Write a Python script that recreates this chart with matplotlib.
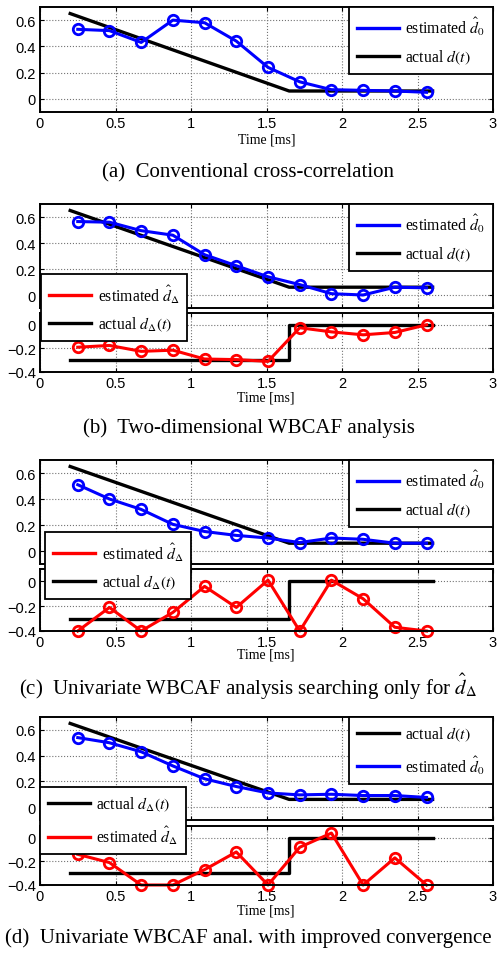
import matplotlib.pyplot as plt
from matplotlib.lines import Line2D

plt.rcParams['font.family'] = 'Liberation Sans'
plt.rcParams['mathtext.fontset'] = 'stix'

# common time axis (ms)
t_est = [0.25, 0.46, 0.67, 0.88, 1.09, 1.30, 1.51, 1.72, 1.93, 2.14, 2.35, 2.56]
t_act = [0.20, 1.65, 2.60]
d_act = [0.65, 0.06, 0.06]
t_step = [0.20, 1.65, 1.65, 2.60]
dd_act = [-0.30, -0.30, 0.00, 0.00]

# (a) conventional cross-correlation
a_d0 = [0.53, 0.52, 0.43, 0.60, 0.58, 0.44, 0.24, 0.13, 0.07, 0.065, 0.06, 0.05]
# (b) two-dimensional WBCAF
b_d0 = [0.565, 0.56, 0.495, 0.46, 0.31, 0.225, 0.14, 0.08, 0.01, 0.0, 0.06, 0.055]
b_dd = [-0.19, -0.175, -0.225, -0.215, -0.29, -0.295, -0.31, -0.025, -0.06, -0.085, -0.065, 0.0]
# (c) univariate, searching only for d_delta
c_d0 = [0.51, 0.40, 0.32, 0.205, 0.15, 0.12, 0.10, 0.065, 0.10, 0.09, 0.06, 0.06]
c_dd = [-0.40, -0.21, -0.40, -0.25, -0.04, -0.21, 0.01, -0.40, 0.01, -0.14, -0.37, -0.40]
# (d) univariate, improved convergence
d_d0 = [0.54, 0.50, 0.43, 0.32, 0.22, 0.16, 0.11, 0.095, 0.10, 0.09, 0.09, 0.075]
d_dd = [-0.14, -0.21, -0.40, -0.40, -0.27, -0.12, -0.40, -0.08, 0.04, -0.40, -0.17, -0.40]

captions = ['(a)  Conventional cross-correlation',
            '(b)  Two-dimensional WBCAF analysis',
            r'(c)  Univariate WBCAF analysis searching only for $\hat{d}_\Delta$',
            '(d)  Univariate WBCAF anal. with improved convergence']

W, H = 497, 954
fig = plt.figure(figsize=(W / 100, H / 100), dpi=100)
serif = 'Liberation Serif'


def rect(top, bot, left=40, right=493):
    return [left / W, 1 - bot / H, (right - left) / W, (bot - top) / H]


def style(ax, yticks, ylim, labels):
    ax.set_xlim(0, 3)
    ax.set_ylim(*ylim)
    ax.set_xticks([0, 0.5, 1, 1.5, 2, 2.5, 3])
    ax.set_xticklabels(['0', '0.5', '1', '1.5', '2', '2.5', '3'] if labels else [])
    ax.set_yticks(yticks)
    ax.set_yticklabels([('%g' % v).replace('-', '\u2212') for v in yticks])
    ax.tick_params(direction='in', length=3, labelsize=10.5, top=True, right=True, pad=3)
    ax.grid(True, color='0.45', linestyle=':', linewidth=0.8)
    for s in ax.spines.values():
        s.set_linewidth(1.4)


def leg(ax, items, loc, anchor):
    hs = [Line2D([], [], color=c, lw=2.4) for c, _ in items]
    lg = ax.legend(hs, [l for _, l in items], loc=loc, bbox_to_anchor=anchor,
                   borderaxespad=0, fancybox=False, framealpha=1, edgecolor='black',
                   prop={'family': serif, 'size': 11.3}, handlelength=2.7,
                   labelspacing=0.65, borderpad=0.5, handletextpad=0.4)
    lg.get_frame().set_linewidth(1.3)
    lg.set_zorder(10)


def plot_top(ax, est, order_actual_first=False):
    ax.plot(t_act, d_act, color='black', lw=2.4)
    ax.plot(t_est, est, color='blue', lw=2.2, marker='o', ms=7.5, mfc='none', mew=2, clip_on=False)
    items = [('blue', r'estimated $\hat{d}_0$'), ('black', r'actual $d(t)$')]
    if order_actual_first:
        items = items[::-1]
    style(ax, [0, 0.2, 0.4, 0.6], (-0.1, 0.7), False)
    leg(ax, items, 'upper right', (1, 1))


def plot_bot(ax, est):
    ax.plot(t_step, dd_act, color='black', lw=2.4)
    ax.plot(t_est, est, color='red', lw=2.2, marker='o', ms=7.5, mfc='none', mew=2, clip_on=False)
    style(ax, [-0.4, -0.2, 0], (-0.4, 0.1), True)


# (a)
ax = fig.add_axes(rect(8, 113))
plot_top(ax, a_d0)
style(ax, [0, 0.2, 0.4, 0.6], (-0.1, 0.7), True)
ax.set_xlabel('Time [ms]', family=serif, fontsize=10, labelpad=2)
fig.text(0.5, 1 - 173 / H, captions[0], ha='center', va='center', family=serif, fontsize=15)

panels = [(b_d0, b_dd, 205, 309, 314, 373, 398, 428, False, (1, 342)),
          (c_d0, c_dd, 461, 565, 570, 632, 655, 687, False, (5, 600)),
          (d_d0, d_dd, 718, 821, 827, 886, 911, 938, True, (0, 855))]

for i, (top, bot, t1, b1, t2, b2, yl, yc, rev, lpos) in enumerate(panels):
    ax1 = fig.add_axes(rect(t1, b1))
    plot_top(ax1, top, rev)
    ax2 = fig.add_axes(rect(t2, b2))
    ax2.set_zorder(5)
    plot_bot(ax2, bot)
    items = [('red', r'estimated $\hat{d}_\Delta$'), ('black', r'actual $d_\Delta(t)$')]
    if rev:
        items = items[::-1]
    # legend anchored at its lower-left corner, in pixel terms relative to ax2
    x0 = lpos[0] / (493 - 40)
    y0 = (b2 - lpos[1]) / (b2 - t2)
    leg(ax2, items, 'lower left', (x0, y0))
    fig.text(266 / W, 1 - yl / H, 'Time [ms]', ha='center', va='center', family=serif, fontsize=10)
    fig.text(0.5, 1 - yc / H, captions[i + 1], ha='center', va='center', family=serif, fontsize=15)

fig.savefig('out.png', dpi=100)
